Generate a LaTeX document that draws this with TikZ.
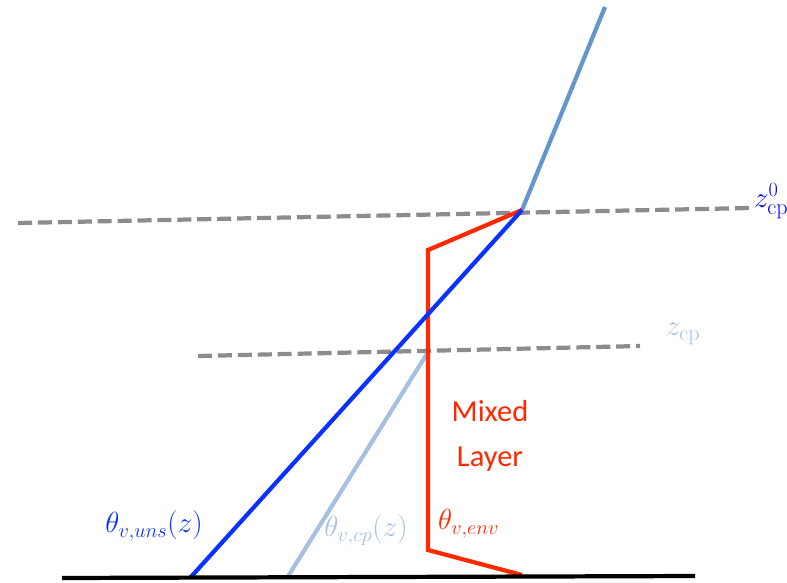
\documentclass[tikz,border=0pt]{standalone}
\usepackage{fontspec}
\usepackage{amsmath}
\newfontfamily\labelfont{Carlito}
\definecolor{unsblue}{RGB}{10,50,255}
\definecolor{freeblue}{RGB}{100,150,205}
\definecolor{cpblue}{RGB}{165,192,224}
\definecolor{envred}{RGB}{255,40,0}
\definecolor{dashgray}{RGB}{140,140,140}

\begin{document}
\begin{tikzpicture}[x=0.03cm, y=-0.03cm, every node/.style={font=\fontsize{23}{28}\selectfont},
  prof/.style={line width=3.6pt},
  lvl/.style={line width=3.6pt, dashgray, dash pattern=on 12pt off 5pt}]
\useasboundingbox (0,0) rectangle (787,582);
% profile corners
\coordinate (T) at (605,7);
\coordinate (K) at (522,210);
\coordinate (R1) at (428,250);
\coordinate (C) at (428,352);
\coordinate (R2) at (428,550);
\coordinate (R3) at (522,575);
\coordinate (U) at (190,578);
\coordinate (P) at (287,578);
% levels
\coordinate (L0a) at (18,223);
\coordinate (L0b) at (750,208);
\coordinate (L1a) at (198,356);
\coordinate (L1b) at (640,346);
\coordinate (Ga) at (62,578);
\coordinate (Gb) at (695,576);
\draw[lvl] (L0a)--(L0b);
\draw[lvl] (L1a)--(L1b);
\draw[prof, freeblue] (T)--(K);
\draw[prof, cpblue] (C)--(P);
\draw[prof, envred, line join=miter] (K)--(R1)--(R2)--(R3);
\draw[prof, unsblue] (K)--(U);
\draw[line width=3.6pt, black] (Ga)--(Gb);
% labels
\node[blue, anchor=west, font=\fontsize{27}{30}\selectfont] (zcp0) at (750,201) {$z_{\mathrm{cp}}^{0}$};
\node[cpblue, anchor=west, font=\fontsize{27}{30}\selectfont] (zcp) at (662,334) {$z_{\mathrm{cp}}$};
\node[unsblue] (tuns) at (154,526) {$\theta_{v,uns}(z)$};
\node[cpblue] (tcp) at (366,530) {$\theta_{v,cp}(z)$};
\node[envred, anchor=west] (tenv) at (434,524) {$\theta_{v,env}$};
\node[envred, align=center, font=\labelfont\fontsize{26}{38}\selectfont] (ml) at (490,436) {Mixed\\Layer};
\end{tikzpicture}
\end{document}
